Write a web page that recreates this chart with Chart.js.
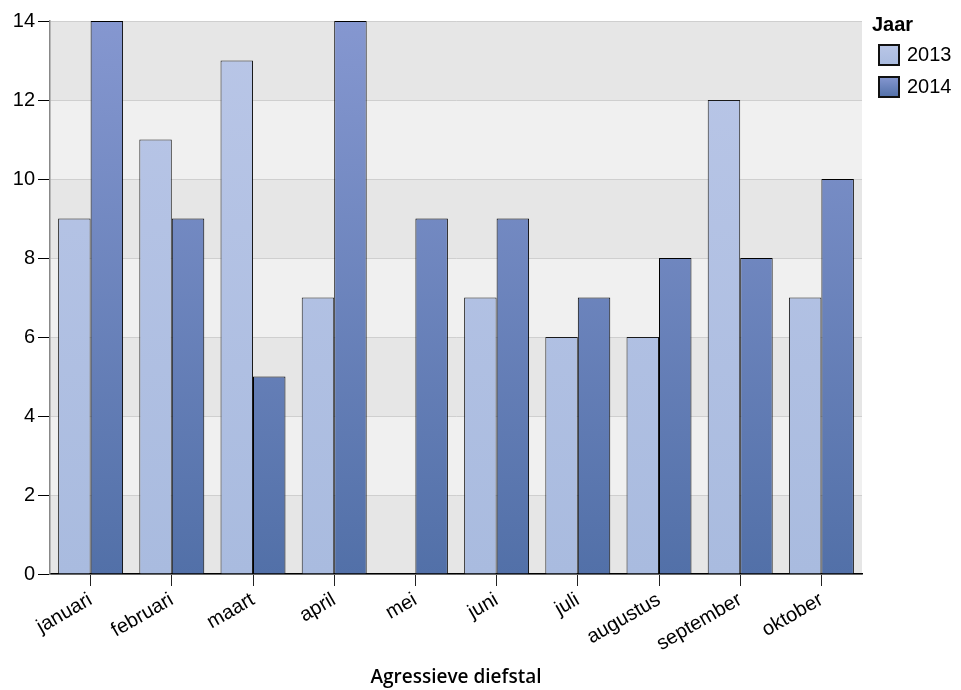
<!DOCTYPE html>
<html>
<head>
<meta charset="utf-8">
<script src="https://cdn.jsdelivr.net/npm/chart.js@4/dist/chart.umd.min.js"></script>
<style>
html,body{margin:0;padding:0;background:#fff;}
#wrap{width:961px;height:690px;position:relative;}
</style>
</head>
<body>
<div id="wrap"><canvas id="c" width="961" height="690"></canvas></div>
<script>
const categories = ['januari','februari','maart','april','mei','juni','juli','augustus','september','oktober'];
const seriesNames = ['2013','2014'];
const values2013 = [9, 11, 13, 7, null, 7, 6, 6, 12, 7];
const values2014 = [14, 9, 5, 14, 9, 9, 7, 8, 8, 10];
const yTicks = [0, 2, 4, 6, 8, 10, 12, 14];
const legendTitle = 'Jaar';
const axisTitle = 'Agressieve diefstal';

const grad2013 = ['#b9c6e7', '#a9bbdf'];
const grad2014 = ['#8597d0', '#5270a8'];

function makeGradient(ctx, chart, cols) {
  const area = chart.chartArea;
  if (!area) return cols[0];
  const g = ctx.createLinearGradient(0, area.top, 0, area.bottom);
  g.addColorStop(0, cols[0]);
  g.addColorStop(1, cols[1]);
  return g;
}

const bandPlugin = {
  id: 'bands',
  beforeDraw(chart) {
    const {ctx, chartArea, scales} = chart;
    const y = scales.y;
    ctx.save();
    for (let i = 0; i < yTicks.length - 1; i++) {
      const top = y.getPixelForValue(yTicks[i + 1]);
      const bot = y.getPixelForValue(yTicks[i]);
      ctx.fillStyle = (i % 2 === 0) ? '#e6e6e6' : '#f0f0f0';
      ctx.fillRect(chartArea.left, top, chartArea.right - chartArea.left, bot - top);
    }
    ctx.restore();
  }
};

const legendPlugin = {
  id: 'customLegend',
  afterDraw(chart) {
    const ctx = chart.ctx;
    ctx.save();
    ctx.fillStyle = '#000';
    ctx.font = 'bold 20px "Liberation Sans", Arial, sans-serif';
    ctx.textBaseline = 'middle';
    ctx.textAlign = 'left';
    ctx.fillText(legendTitle, 872, 25);
    const cols = [grad2013, grad2014];
    chart.data.datasets.forEach((ds, i) => {
      const yTop = 45 + i * 32;
      const g = ctx.createLinearGradient(0, yTop, 0, yTop + 20);
      g.addColorStop(0, cols[i][0]);
      g.addColorStop(1, cols[i][1]);
      ctx.fillStyle = g;
      ctx.fillRect(879, yTop, 20, 20);
      ctx.lineWidth = 2;
      ctx.strokeStyle = '#111';
      ctx.strokeRect(879, yTop, 20, 20);
      ctx.fillStyle = '#000';
      ctx.font = '20px "Liberation Sans", Arial, sans-serif';
      ctx.fillText(ds.label, 907, yTop + 10);
    });
    ctx.restore();
  }
};

new Chart(document.getElementById('c'), {
  type: 'bar',
  data: {
    labels: categories,
    datasets: [
      {
        label: seriesNames[0],
        data: values2013,
        backgroundColor: (c) => makeGradient(c.chart.ctx, c.chart, grad2013),
        borderColor: '#1a1a1a',
        borderWidth: 1
      },
      {
        label: seriesNames[1],
        data: values2014,
        backgroundColor: (c) => makeGradient(c.chart.ctx, c.chart, grad2014),
        borderColor: '#000',
        borderWidth: 1
      }
    ]
  },
  options: {
    responsive: false,
    animation: false,
    devicePixelRatio: 1,
    layout: { padding: { top: 21, right: 99, left: 0, bottom: 0 } },
    datasets: { bar: { barPercentage: 1, categoryPercentage: 0.8 } },
    plugins: {
      legend: { display: false },
      tooltip: { enabled: false }
    },
    scales: {
      x: {
        afterFit(scale) { scale.height = 116; },
        grid: { display: true, drawOnChartArea: false, drawTicks: true, tickLength: 12, tickColor: '#222', color: '#222', offset: false },
        border: { display: true, color: '#000', width: 1.5 },
        ticks: {
          color: '#000',
          font: { family: '"Liberation Sans", Arial, sans-serif', size: 20 },
          minRotation: 30,
          maxRotation: 30,
          autoSkip: false,
          padding: 2
        },
        title: {
          display: true,
          text: axisTitle,
          color: '#000',
          font: { family: '"Open Sans", sans-serif', size: 19, weight: '600' },
          padding: { top: 0, bottom: 1 }
        }
      },
      y: {
        min: 0,
        max: 14,
        afterFit(scale) { scale.width = 50; },
        afterBuildTicks(scale) { scale.ticks = yTicks.map(v => ({ value: v })); },
        grid: { color: '#cfcfcf', drawTicks: true, tickLength: 12, tickColor: '#000', lineWidth: 1 },
        border: { display: true, color: '#888', width: 1.5 },
        ticks: {
          color: '#000',
          font: { family: '"Liberation Sans", Arial, sans-serif', size: 20 },
          padding: 3
        }
      }
    }
  },
  plugins: [bandPlugin, legendPlugin]
});
</script>
</body>
</html>
